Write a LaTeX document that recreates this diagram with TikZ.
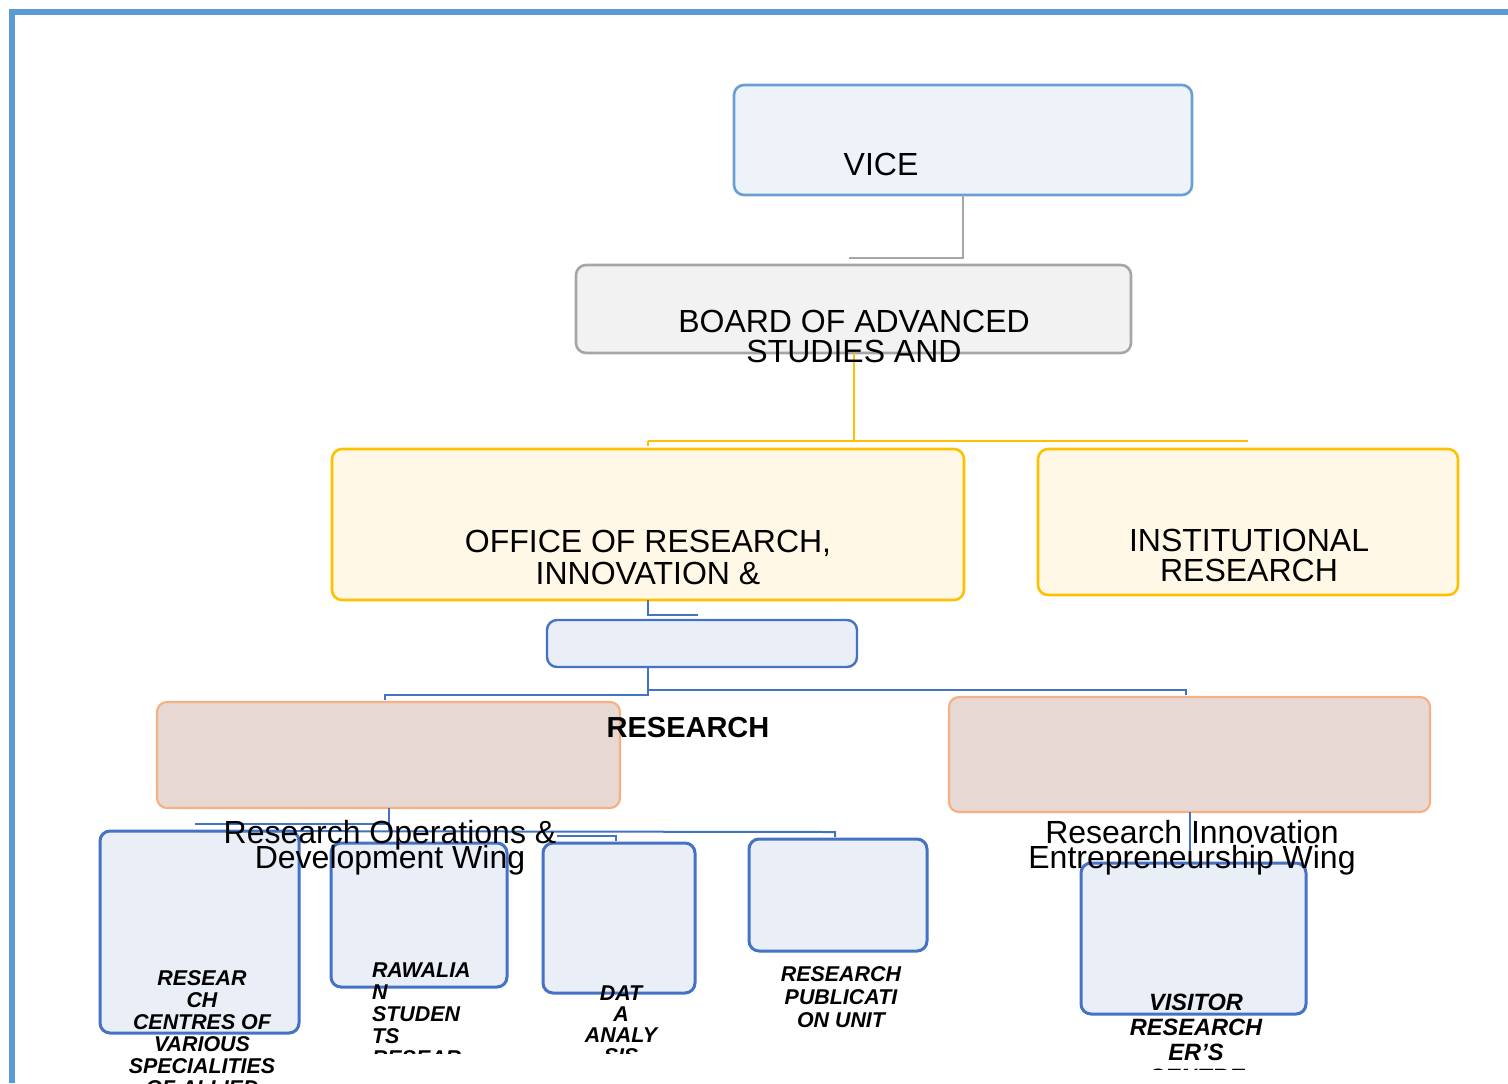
\documentclass[tikz,border=0pt]{standalone}
\usepackage{fontspec}
\setmainfont{Liberation Sans}
\definecolor{framec}{HTML}{5B9BD5}
\definecolor{viceline}{HTML}{6A9FD4}
\definecolor{vicefill}{HTML}{EEF3FA}
\definecolor{greyline}{HTML}{A6A6A6}
\definecolor{greyfill}{HTML}{F2F2F2}
\definecolor{yelline}{HTML}{FFC000}
\definecolor{yelfill}{HTML}{FFF8E6}
\definecolor{bluline}{HTML}{4472C4}
\definecolor{blufill}{HTML}{E9EEF7}
\definecolor{pinkline}{HTML}{F4B183}
\definecolor{pinkfill}{HTML}{E8D8D3}
\tikzset{
  box/.style={rounded corners=5pt, inner sep=0pt, outer sep=0pt},
  vicebox/.style={box, draw=viceline, fill=vicefill, line width=1.3pt},
  greybox/.style={box, draw=greyline, fill=greyfill, line width=1.3pt},
  yelbox/.style={box, draw=yelline, fill=yelfill, line width=1.3pt},
  blubox/.style={box, draw=bluline, fill=blufill, line width=1.2pt},
  unitbox/.style={box, draw=bluline, fill=blufill, line width=1.5pt},
  pinkbox/.style={box, draw=pinkline, fill=pinkfill, line width=1.1pt},
  greyconn/.style={draw=greyline, line width=1pt},
  yelconn/.style={draw=yelline, line width=1pt},
  bluconn/.style={draw=bluline, line width=1pt},
  % multi-line labels sit on the baseline of their last line
  lbl/.style={inner sep=0pt, outer sep=0pt, align=center, anchor=base},
  mainfont/.style={font=\fontsize{16}{15}\selectfont},
  unitfont/.style={font=\fontsize{10.7}{11}\selectfont\bfseries\itshape},
}
\begin{document}
% keep a fixed line pitch even where the lines of a label touch
\lineskiplimit=-50pt\relax
\lineskip=0pt\relax
\begin{tikzpicture}[x=0.5pt, y=-0.5pt]
\useasboundingbox (0,0) rectangle (1508,1083);

% outer frame
\draw[framec, line width=3pt] (12,1083) -- (12,12) -- (1508,12);

% boxes
\node[vicebox, minimum width=229pt, minimum height=55pt] (vice) at (963,140) {};
\node[greybox, minimum width=277.5pt, minimum height=44pt] (board) at (853.5,309) {};
\node[yelbox, minimum width=316pt, minimum height=75.5pt] (office) at (648,524.5) {};
\node[yelbox, minimum width=210pt, minimum height=73pt] (inst) at (1248,522) {};
\node[blubox, minimum width=155pt, minimum height=23.5pt] (rhead) at (702,643.5) {};
\node[pinkbox, minimum width=231.5pt, minimum height=53pt] (rodw) at (388.5,755) {};
\node[pinkbox, minimum width=240.5pt, minimum height=57.5pt] (riew) at (1189.5,754.5) {};
\node[unitbox, minimum width=99.5pt, minimum height=101pt] (rc) at (199.5,932) {};
\node[unitbox, minimum width=88pt, minimum height=72pt] (rsr) at (419,915) {};
\node[unitbox, minimum width=76pt, minimum height=75pt] (da) at (619,918) {};
\node[unitbox, minimum width=89pt, minimum height=56pt] (rpu) at (838,895) {};
\node[unitbox, minimum width=112.5pt, minimum height=75.5pt] (vrc) at (1193.5,938.5) {};

% connector end points
\coordinate (g1) at (849,258);
\coordinate (y1) at (849,441);
\coordinate (b1) at (698,615);
\coordinate (lj) at (385,695);
\coordinate (rj) at (1186,690);
\coordinate (ha) at (195,824);
\coordinate (hb) at (835,832);
\coordinate (hc) at (557,836);
\coordinate (hd) at (616,836);

% connectors
\draw[greyconn] (vice.south) |- (g1);
\draw[yelconn] (board.south) -- (board.south |- y1);
\draw[yelconn] (office.north |- y1) -- ++(0,5);
\draw[yelconn] (office.north |- y1) -- (inst.north |- y1);
\draw[bluconn] (office.south) |- (b1);
\draw[bluconn] (rhead.south -| office.south) |- (lj) -- ++(0,5);
\draw[bluconn] (rj -| office.south) -- (rj) -- ++(0,5);
\draw[bluconn] (rodw.south) -- (rodw.south |- hb);
\draw[bluconn] (ha) -- (ha -| rodw.south);
\draw[bluconn] (rc.north) -- (hb) -- ++(0,5);
\draw[bluconn] (hc) -- (hd) -- ++(0,5);
\draw[bluconn] (riew.south) -- (riew.south |- vrc.north);

% labels
\node[lbl, mainfont] (tvice) at (881,175) {VICE};
\node[lbl, mainfont] (tboard) at (854,362) {BOARD OF ADVANCED\\STUDIES AND};
\node[lbl, font=\fontsize{16}{16}\selectfont] (toffice) at (648,584) {OFFICE OF RESEARCH,\\INNOVATION \&};
\node[lbl, mainfont] (tinst) at (1249,581) {INSTITUTIONAL\\RESEARCH};
\node[lbl, font=\fontsize{14.5}{15}\selectfont\bfseries] (trhead) at (688,737) {RESEARCH};
\node[lbl, font=\fontsize{16}{12.5}\selectfont] (trodw) at (390,868) {Research Operations \&\\Development Wing};
\node[lbl, font=\fontsize{16}{12.5}\selectfont] (triew) at (1192,868) {Research Innovation\\Entrepreneurship Wing};

\begin{scope}
\clip (0,0) rectangle (1508,1083);
\node[lbl, unitfont] (trc) at (202,1095) {RESEAR\\CH\\CENTRES OF\\VARIOUS\\SPECIALITIES\\OF ALLIED};
\end{scope}
\begin{scope}
\clip (0,0) rectangle (1508,1053);
\node[lbl, unitfont, align=left, anchor=base west] (trsr) at (372,1065) {RAWALIA\\N\\ STUDEN\\ TS\\ RESEAR};
\node[lbl, font=\fontsize{10.7}{10.5}\selectfont\bfseries\itshape] (tda) at (621,1063) {DAT\\A\\ANALY\\SIS};
\end{scope}
\node[lbl, font=\fontsize{10.7}{11.5}\selectfont\bfseries\itshape] (trpu) at (841,1027) {RESEARCH\\PUBLICATI\\ON UNIT};
\begin{scope}
\clip (0,0) rectangle (1508,1069);
\node[lbl, font=\fontsize{11.8}{12.5}\selectfont\bfseries\itshape] (tvrc) at (1196,1085) {VISITOR\\RESEARCH\\ER'S\\CENTRE};
\end{scope}
\end{tikzpicture}
\end{document}
